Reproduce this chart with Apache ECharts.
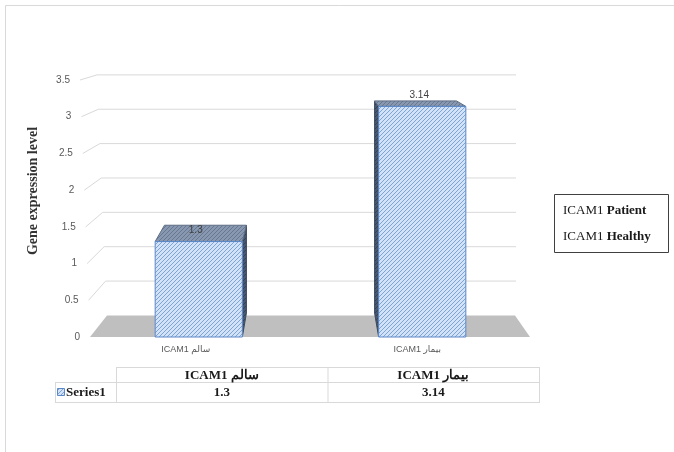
<!DOCTYPE html>
<html>
<head>
<meta charset="utf-8">
<script src="https://cdn.jsdelivr.net/npm/echarts@6/dist/echarts.min.js"></script>
<style>
  html, body { margin: 0; padding: 0; background: #fff; }
  #chart { width: 674px; height: 452px; }
</style>
</head>
<body>
<div id="chart"></div>
<script>
// data
const categories = ['ICAM1 سالم', 'ICAM1 بیمار']
const values = [1.3, 3.14]
const seriesName = 'Series1'
const yTicks = [0, 0.5, 1, 1.5, 2, 2.5, 3, 3.5]
const legendRows = [['ICAM1 ', 'Patient'], ['ICAM1 ', 'Healthy']]
const yTitle = 'Gene expression level'

const serif = '"Liberation Serif", "DejaVu Serif", serif'
const sans = '"Liberation Sans", "DejaVu Sans", sans-serif'

// excel style "wide upward diagonal" fill
function hatch(bg, fg) {
  const c = document.createElement('canvas')
  c.width = 4
  c.height = 4
  const g = c.getContext('2d')
  g.fillStyle = bg
  g.fillRect(0, 0, 4, 4)
  g.strokeStyle = fg
  g.lineWidth = 1
  g.beginPath()
  g.moveTo(0, 4); g.lineTo(4, 0)
  g.moveTo(-1, 1); g.lineTo(1, -1)
  g.moveTo(3, 5); g.lineTo(5, 3)
  g.stroke()
  return { image: c, repeat: 'repeat' }
}
const frontFill = hatch('#d4e2f6', '#7aa4dc')
const topFill = hatch('#8798b0', '#66778f')
const sideFill = hatch('#485870', '#33425a')

// back wall grid lines + floor
function renderWall(params, api) {
  const v = api.value(1)
  const cs = params.coordSys
  const p = api.coord([0, v])[1]
  const yb = cs.y + cs.height
  const lx = cs.x + 3 - 10 * (yb - p) / cs.height
  const dy = -0.064 * p
  const backR = cs.x + cs.width - 18
  if (v === 0) {
    return {
      type: 'polygon',
      shape: { points: [[lx, p], [cs.x + cs.width - 4, p], [backR - 1, p + dy], [lx + 17, p + dy]] },
      style: { fill: '#bfbfbf' }
    }
  }
  return {
    type: 'polyline',
    shape: { points: [[lx, p], [lx + 17, p + dy], [backR, p + dy]] },
    style: { stroke: '#d9d9d9', lineWidth: 1, fill: null }
  }
}

// 3d column
function renderBar(params, api) {
  const i = api.value(0)
  const v = api.value(1)
  const top = api.coord([i, v])
  const base = api.coord([i, 0])
  const w = api.size([1, 0])[0] * 0.39
  const cs = params.coordSys
  const vpX = cs.x + cs.width * 0.5
  const ddx = x => 0.06 * (vpX - x)
  const ddy = y => -(0.08 * y - 3)
  const x0 = top[0] - w / 2
  const x1 = top[0] + w / 2
  const yt = top[1]
  const yb = base[1]
  const children = []
  if (ddx(x1) > 0) {
    children.push({
      type: 'polygon',
      shape: { points: [[x1, yt], [x1 + ddx(x1), yt + ddy(yt)], [x1 + ddx(x1), yb + ddy(yb)], [x1, yb]] },
      style: { fill: sideFill, stroke: '#3b4a5e', lineWidth: 1 }
    })
  }
  if (ddx(x0) < 0) {
    children.push({
      type: 'polygon',
      shape: { points: [[x0, yt], [x0 + ddx(x0), yt + ddy(yt)], [x0 + ddx(x0), yb + ddy(yb)], [x0, yb]] },
      style: { fill: sideFill, stroke: '#3b4a5e', lineWidth: 1 }
    })
  }
  children.push({
    type: 'polygon',
    shape: { points: [[x0, yt], [x1, yt], [x1 + ddx(x1), yt + ddy(yt)], [x0 + ddx(x0), yt + ddy(yt)]] },
    style: { fill: topFill, stroke: '#5d6d84', lineWidth: 1 }
  })
  children.push({
    type: 'rect',
    shape: { x: x0, y: yt, width: w, height: yb - yt },
    style: { fill: frontFill, stroke: '#5b88c8', lineWidth: 1 }
  })
  children.push({
    type: 'text',
    style: {
      x: top[0] - 3, y: yt - 11, text: String(v),
      fill: '#404040', font: '10px ' + sans,
      align: 'center', verticalAlign: 'middle'
    }
  })
  return { type: 'group', children: children }
}

// data table under the plot
const tblL = 116, tblR = 539, rowA = 367, rowB = 382, rowC = 402, keyL = 55
const colW = (tblR - tblL) / categories.length
const lineStyle = { stroke: '#d9d9d9', lineWidth: 1 }
const hLine = (x1, x2, y) => ({ type: 'line', shape: { x1: x1, y1: y + 0.5, x2: x2, y2: y + 0.5 }, style: lineStyle, silent: true })
const vLine = (x, y1, y2) => ({ type: 'line', shape: { x1: x + 0.5, y1: y1, x2: x + 0.5, y2: y2 }, style: lineStyle, silent: true })
const cellText = (text, x, y, align) => ({
  type: 'text',
  style: { x: x, y: y, text: text, fill: '#1a1a1a', font: 'bold 13px ' + serif, align: align || 'center', verticalAlign: 'middle' }
})

const tableEls = [
  hLine(tblL, tblR, rowA), hLine(keyL, tblR, rowB), hLine(keyL, tblR, rowC),
  vLine(keyL, rowB, rowC + 1), vLine(tblL, rowA, rowC + 1)
]
categories.forEach((c, i) => {
  tableEls.push(vLine(tblL + colW * (i + 1), rowA, rowC + 1))
  tableEls.push(cellText(c, tblL + colW * (i + 0.5), (rowA + rowB) / 2 + 1))
  tableEls.push(cellText(String(values[i]), tblL + colW * (i + 0.5), (rowB + rowC) / 2 + 1))
})
tableEls.push({ type: 'rect', shape: { x: 57.5, y: 388.5, width: 7, height: 7 }, style: { fill: frontFill, stroke: '#5b88c8', lineWidth: 1 } })
tableEls.push(cellText(seriesName, 66, (rowB + rowC) / 2 + 1, 'left'))

const legendEls = [{
  type: 'rect',
  shape: { x: 554.5, y: 194.5, width: 114, height: 58 },
  style: { fill: '#fff', stroke: '#404040', lineWidth: 1 }
}]
legendRows.forEach((r, i) => {
  legendEls.push({
    type: 'text',
    style: {
      x: 563, y: 211 + i * 26,
      text: '{n|' + r[0] + '}{b|' + r[1] + '}',
      rich: {
        n: { font: '13px ' + serif, fill: '#1a1a1a' },
        b: { font: 'bold 13px ' + serif, fill: '#1a1a1a' }
      },
      align: 'left', verticalAlign: 'middle'
    }
  })
})

const yRich = {}
yTicks.forEach((v, i) => {
  yRich['p' + i] = { fontSize: 10, fontFamily: sans, color: '#595959', padding: [0, 10 * v / 3.5, 0, 0] }
})

const chart = echarts.init(document.getElementById('chart'))
chart.setOption({
  backgroundColor: '#fff',
  animation: false,
  grid: { left: 87, right: 140, top: 80, bottom: 115 },
  xAxis: {
    type: 'category',
    data: categories,
    axisLine: { show: false },
    axisTick: { show: false },
    axisLabel: {
      margin: 8,
      formatter: (val, idx) => '{c' + idx + '|' + val + '}',
      rich: {
        c0: { fontSize: 9, fontFamily: sans, color: '#595959', padding: [0, 26, 0, 0] },
        c1: { fontSize: 9, fontFamily: sans, color: '#595959', padding: [0, 10, 0, 0] }
      }
    }
  },
  yAxis: {
    type: 'value',
    min: 0,
    max: 3.5,
    interval: 0.5,
    axisLine: { show: false },
    axisTick: { show: false },
    splitLine: { show: false },
    axisLabel: {
      margin: 7,
      formatter: v => '{p' + yTicks.indexOf(v) + '|' + v + '}',
      rich: yRich
    }
  },
  series: [
    {
      type: 'custom',
      name: 'walls',
      clip: false,
      z: 1,
      silent: true,
      encode: { x: 0, y: 1 },
      data: yTicks.map(v => [0, v]),
      renderItem: renderWall
    },
    {
      type: 'custom',
      name: seriesName,
      clip: false,
      z: 3,
      encode: { x: 0, y: 1 },
      data: values.map((v, i) => [i, v]),
      renderItem: renderBar
    }
  ],
  graphic: [
    { type: 'line', shape: { x1: 5.5, y1: 5.5, x2: 674, y2: 5.5 }, style: lineStyle, silent: true },
    { type: 'line', shape: { x1: 5.5, y1: 5.5, x2: 5.5, y2: 452 }, style: lineStyle, silent: true },
    {
      type: 'text',
      x: 33, y: 191,
      rotation: Math.PI / 2,
      style: {
        text: yTitle, fill: '#333', font: 'bold 14px ' + serif,
        align: 'center', verticalAlign: 'middle'
      }
    }
  ].concat(tableEls, legendEls)
})
</script>
</body>
</html>
